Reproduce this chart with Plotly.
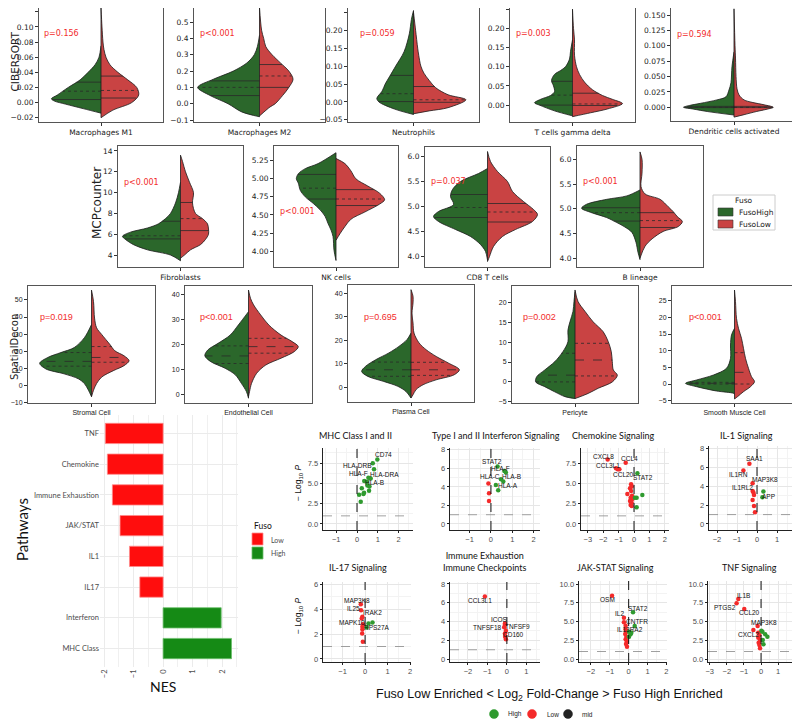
import numpy as np
import plotly.graph_objects as go

W, H = 800, 720
OFF = 8              # the page body adds 8px around the figure div
GREEN = "#2b672b"
RED = "#c94343"
BAR_RED = "#ff0d0d"
BAR_GREEN = "#158a15"
PT_RED = "#f42a2a"
PT_GREEN = "#2f9a2f"
PX_PER_UNIT = 62.5   # violin half widths below are read in pixels

# ---------------- violin profiles (value, half width)
m1_high_y = [-0.014, -0.008, -0.002, 0.002, 0.005, 0.01, 0.02, 0.03, 0.04, 0.05, 0.06, 0.075]
m1_high_w = [0, 18, 36, 47, 50, 44, 33, 21, 13, 6, 2, 0]
m1_low_y = [-0.02, -0.01, 0.0, 0.01, 0.02, 0.03, 0.04, 0.05, 0.06, 0.07, 0.08, 0.1, 0.125]
m1_low_w = [0, 12, 31, 38, 36, 27, 17, 9, 5, 3, 2, 1, 0]
m1_q_high = [0.004, 0.015, 0.027]
m1_q_low = [0.006, 0.016, 0.035]

m2_high_y = [-0.08, -0.05, 0.0, 0.05, 0.1, 0.15, 0.2, 0.25, 0.3, 0.35, 0.42]
m2_high_w = [0, 17, 30, 47, 59, 44, 25, 12, 5, 2, 0]
m2_low_y = [-0.075, -0.02, 0.0, 0.05, 0.1, 0.15, 0.2, 0.25, 0.3, 0.35, 0.4, 0.45, 0.59]
m2_low_w = [0, 10, 15, 22, 28, 32, 28, 20, 12, 6, 4, 2, 0]
m2_q_high = [0.05, 0.10, 0.14]
m2_q_low = [0.10, 0.17, 0.24]

neu_high_y = [-0.035, -0.02, 0.0, 0.01, 0.03, 0.05, 0.07, 0.1, 0.14, 0.19, 0.23, 0.255]
neu_high_w = [0, 18, 33, 35, 30, 27, 23, 17, 9, 4, 2, 0]
neu_low_y = [-0.033, -0.025, -0.016, 0.006, 0.02, 0.04, 0.06, 0.08, 0.1, 0.13, 0.15, 0.2, 0.25]
neu_low_w = [0, 15, 33, 50, 33, 21, 15, 10, 7, 5, 4, 2, 0]
neu_q_high = [0.001, 0.023, 0.074]
neu_q_low = [-0.001, 0.006, 0.043]

tgd_high_y = [-0.028, -0.015, 0.0, 0.006, 0.015, 0.025, 0.035, 0.05, 0.064, 0.08, 0.09, 0.1, 0.12, 0.14, 0.17]
tgd_high_w = [0, 18, 33, 38, 32, 22, 18, 19, 21, 18, 12, 7, 3, 2, 0]
tgd_low_y = [-0.03, -0.02, -0.01, 0.004, 0.015, 0.025, 0.04, 0.06, 0.08, 0.1, 0.13, 0.17, 0.2, 0.25]
tgd_low_w = [0, 18, 35, 50, 40, 30, 20, 12, 7, 4, 2, 2, 1, 0]
tgd_q_high = [0.0, 0.026, 0.062]
tgd_q_low = [-0.001, 0.003, 0.031]

dc_high_y = [-0.0126, -0.007, -0.003, 0.0, 0.003, 0.0065, 0.012, 0.017, 0.028, 0.04, 0.066, 0.09]
dc_high_w = [0, 26, 40, 50, 44, 33, 17, 8, 5, 3, 2, 0]
dc_low_y = [-0.016, -0.012, -0.007, -0.003, 0.0, 0.004, 0.008, 0.012, 0.02, 0.03, 0.05, 0.08, 0.1, 0.16]
dc_low_w = [0, 10, 22, 33, 39, 30, 18, 10, 5, 3, 2, 1.5, 1, 0]
dc_q_high = [-0.0005, 0.0, 0.0015]
dc_q_low = [-0.0005, 0.0, 0.0015]

fib_high_y = [3.45, 4.0, 4.5, 5.0, 5.5, 5.8, 6.2, 6.6, 7.0, 7.5, 8.0, 9.0, 10.0, 11.0]
fib_high_w = [0, 10, 33, 47, 55, 58, 50, 33, 22, 15, 10, 5, 2, 0]
fib_low_y = [3.7, 4.0, 4.5, 5.0, 5.5, 6.0, 6.5, 7.0, 7.5, 8.0, 9.0, 10.0, 11.0, 12.0, 13.0, 13.6]
fib_low_w = [0, 4, 10, 20, 25, 28, 28, 27, 22, 15, 12, 13, 9, 5, 2, 0]
fib_q_high = [5.55, 5.85, 7.25]
fib_q_low = [6.35, 7.5, 9.05]

nk_high_y = [3.87, 4.01, 4.2, 4.29, 4.38, 4.48, 4.57, 4.66, 4.75, 4.84, 4.94, 5.0, 5.07, 5.14, 5.21, 5.36]
nk_high_w = [0, 2, 3, 5, 8, 11, 16, 23, 31, 36, 38, 40, 38, 31, 18, 0]
nk_low_y = [4.15, 4.24, 4.34, 4.44, 4.54, 4.65, 4.71, 4.8, 4.9, 5.0, 5.11, 5.21, 5.28]
nk_low_w = [0, 4, 9, 15, 29, 44, 49, 44, 32, 20, 15, 9, 0]
nk_q_high = [4.72, 4.87, 5.06]
nk_q_low = [4.63, 4.72, 4.85]

cd8_high_y = [3.92, 4.09, 4.23, 4.39, 4.53, 4.69, 4.79, 4.89, 5.03, 5.19, 5.33, 5.49, 5.65, 5.75]
cd8_high_w = [0, 2, 7, 17, 32, 49, 54, 49, 34, 37, 35, 27, 9, 0]
cd8_low_y = [3.89, 3.99, 4.19, 4.39, 4.53, 4.69, 4.83, 4.93, 5.09, 5.29, 5.49, 5.69, 5.89, 6.09]
cd8_low_w = [0, 2, 6, 15, 28, 45, 50, 46, 36, 25, 20, 10, 3, 0]
cd8_q_high = [4.77, 4.97, 5.23]
cd8_q_low = [4.68, 4.88, 5.05]

b_high_y = [3.97, 4.12, 4.32, 4.52, 4.63, 4.72, 4.82, 4.92, 5.01, 5.09, 5.19, 5.26, 5.38]
b_high_w = [0, 2, 4, 8, 15, 23, 33, 48, 58, 53, 33, 13, 0]
b_low_y = [4.0, 4.24, 4.39, 4.54, 4.64, 4.74, 4.84, 4.94, 5.04, 5.19, 5.3, 5.45, 5.72, 6.0, 6.15]
b_low_w = [0, 5, 12, 23, 38, 42, 37, 33, 28, 20, 5, 1, 2, 2, 0]
b_q_high = [4.75, 4.92, 5.02]
b_q_low = [4.62, 4.76, 4.92]

st_high_y = [-6.7, -2.9, 1.0, 3.8, 6.7, 9.6, 12.9, 16.3, 19.2, 22.1, 27.9, 35.6]
st_high_w = [0, 3, 7, 13, 27, 45, 51, 43, 30, 17, 7, 0]
st_low_y = [-6.7, -2.9, 1.0, 4.8, 8.7, 11.5, 14.4, 17.3, 20.2, 24.0, 29.8, 33.7, 39.4, 49.0, 55.8]
st_low_w = [0, 2, 5, 10, 22, 32, 37, 32, 23, 18, 10, 5, 3, 2, 0]
st_q_high = [11.2, 14.0, 19.2]
st_q_low = [13.5, 16.3, 22.7]

en_high_y = [-1.3, 1.3, 4.6, 8.0, 10.6, 13.2, 15.6, 17.9, 20.5, 23.8, 27.8, 33.1]
en_high_w = [0, 2, 7, 13, 23, 37, 43, 40, 30, 18, 10, 0]
en_low_y = [-0.7, 1.3, 4.6, 8.6, 11.9, 14.6, 17.2, 19.2, 21.2, 23.8, 27.8, 31.8, 35.8, 38.4, 41.7]
en_low_w = [0, 1, 3, 8, 17, 32, 45, 49, 43, 32, 20, 12, 5, 2, 0]
en_q_high = [12.5, 15.5, 19.5]
en_q_low = [16.6, 19.2, 22.5]

pl_high_y = [-4.7, -1.9, 0.3, 2.4, 4.6, 6.7, 8.9, 11.7, 14.6, 17.4, 20.3, 23.1]
pl_high_w = [0, 5, 13, 27, 43, 49, 45, 35, 22, 12, 4, 0]
pl_low_y = [-4.7, -3.3, -1.1, 1.0, 3.1, 5.3, 7.4, 10.3, 13.1, 16.0, 18.9, 23.1, 27.4, 31.7, 36.0, 38.9, 41.7]
pl_low_w = [0, 2, 5, 12, 25, 43, 48, 37, 25, 15, 8, 3, 2, 1, 2, 2, 0]
pl_q_high = [4.6, 7.4, 10.7]
pl_q_low = [5.0, 7.4, 10.6]

pe_high_y = [-4.2, -3.7, -2.5, -1.2, 0.0, 1.3, 3.0, 5.1, 7.6, 10.1, 13.0, 15.1, 17.7, 20.2, 22.7]
pe_high_w = [0, 10, 20, 30, 39, 38, 30, 20, 12, 7, 7, 5, 2, 1, 0]
pe_low_y = [-4.2, -2.9, -1.6, 0.0, 1.7, 3.0, 5.1, 7.6, 10.1, 12.6, 15.1, 17.7, 20.2, 23.1]
pe_low_w = [0, 13, 23, 37, 42, 38, 37, 36, 33, 28, 18, 10, 3, 0]
pe_q_high = [0.0, 1.7, 7.2]
pe_q_low = [1.5, 5.5, 9.7]

sm_high_y = [-3.1, -2.8, -2.1, -0.8, 0.2, 1.2, 2.7, 4.7, 7.7, 11.7, 14.7, 16.7]
sm_high_w = [0, 1, 18, 38, 49, 38, 21, 8, 4, 4, 3, 0]
sm_low_y = [-4.5, -3.8, -2.3, -0.8, 0.7, 2.2, 4.7, 7.7, 10.7, 13.7, 16.7, 19.7, 24.7, 28.2]
sm_low_w = [0, 3, 9, 16, 20, 17, 14, 11, 9, 7, 4, 2, 1, 0]
sm_q_high = [0.0, 0.2, 0.5]
sm_q_low = [0.0, 3.5, 9.4]

# ---------------- GSEA bars
bar_low_names = ["TNF", "Chemokine", "Immune Exhaustion", "JAK/STAT", "IL1", "IL17"]
bar_low_nes = [-1.96, -1.89, -1.72, -1.46, -1.14, -0.79]
bar_high_names = ["Interferon", "MHC Class"]
bar_high_nes = [1.97, 2.32]

# ---------------- volcano points (log2 fold change, -log10 p)
mhc_fc = [0.98, 0.76, 0.82, 0.55, 0.66, 0.35, 0.47, 0.50, 0.60, 0.58, 0.23, 0.34, 0.31, 0.10, 0.18]
mhc_p = [7.95, 7.46, 6.72, 5.70, 5.60, 5.30, 5.20, 4.75, 4.60, 4.10, 4.40, 3.85, 3.70, 3.60, 2.75]
mhc_genes = [("CD74", 0), ("HLA-DRB", 1), ("HLA-F", 5), ("HLA-DRA", 2), ("HLA-B", 6)]

ifn_fc = [0.31, 0.63, 0.70, 0.47, 0.58, 0.23, 0.34, -0.12, -0.09, -0.09]
ifn_p = [6.20, 5.73, 5.55, 4.83, 4.58, 4.22, 3.64, 4.36, 3.32, 2.49]
ifn_genes = [("STAT2", 0), ("HLA-F", 1), ("HLA-C", 3), ("HLA-B", 2), ("HLA-A", 4)]

chem_fc = [-1.71, -0.54, -1.17, -1.06, -0.95, -0.19, -0.15, -0.26, -0.19, -0.43, -0.13,
           -0.22, -0.11, -0.26, -0.15, -0.22, -0.15, 0.22, 0.06, 0.17, 0.54, 0.17]
chem_p = [7.95, 7.54, 6.85, 6.72, 6.72, 4.88, 4.60, 4.39, 4.06, 3.69, 3.48,
          3.24, 3.08, 2.83, 2.62, 2.34, 2.21, 6.23, 3.24, 3.24, 3.57, 2.05]
chem_genes = [("CXCL8", 0), ("CCL4", 1), ("CCL3L1", 2), ("CCL20", 4), ("STAT2", 17)]

il1_fc = [-0.38, -0.68, -0.22, -0.22, -0.18, -0.15, -0.22, -0.15, -0.10, 0.32, 0.27]
il1_p = [6.40, 5.69, 4.34, 3.52, 3.34, 3.09, 2.56, 1.92, 1.24, 3.45, 2.85]
il1_genes = [("SAA1", 0), ("IL1RN", 1), ("MAP3K8", 2), ("IL1RL2", 3), ("APP", 10)]

il17_fc = [-0.19, -0.18, -0.12, -0.15, -0.10, -0.12, -0.12, -0.13, -0.10, 0.15, 0.33, 0.07]
il17_p = [4.40, 3.92, 3.39, 3.25, 2.80, 2.59, 2.37, 2.05, 1.39, 2.85, 2.93, 2.53]
il17_genes = [("MAP3K8", 0), ("IL25", 1), ("IRAK2", 2), ("MAPK10", 4), ("RPS27A", 11)]

exh_fc = [-1.13, -0.10, -0.10, -0.14, -0.05, -0.09, -0.10, -0.05]
exh_p = [6.65, 3.80, 3.65, 3.38, 3.02, 2.38, 2.74, 2.13]
exh_genes = [("CCL3L1", 0), ("ICOS", 1), ("TNFSF18", 3), ("TNFSF9", 2), ("CD160", 5)]

jak_fc = [-0.88, -0.25, -0.25, -0.16, -0.16, -0.12, -0.18, -0.12, -0.16, -0.10, -0.14, -0.09,
          0.23, 0.32, 0.02, 0.10, 0.02, 0.14]
jak_p = [8.44, 5.51, 4.89, 4.45, 3.96, 3.64, 3.33, 2.98, 2.62, 2.31, 2.00, 1.64,
         6.22, 4.40, 3.64, 3.29, 2.98, 3.51]
jak_genes = [("OSM", 0), ("IL2", 1), ("STAT2", 12), ("CNTFR", 13), ("IL13RA2", 4)]

tnf_fc = [-1.33, -1.43, -0.98, -0.20, -0.45, -0.16, -0.10, -0.16, -0.06, -0.14, -0.10, -0.06,
          0.08, 0.24, 0.37, 0.10, 0.14, 0.02]
tnf_p = [8.00, 7.42, 6.67, 4.40, 3.87, 3.51, 3.20, 2.84, 2.53, 2.18, 1.87, 1.42,
         3.64, 3.29, 2.98, 2.53, 1.96, 3.78]
tnf_genes = [("IL1B", 0), ("PTGS2", 1), ("CCL20", 2), ("MAP3K8", 3), ("CXCL2", 4)]

fig = go.Figure()
annotations = []
shapes = []
axes = {}


def px(x, y):
    # page pixel -> paper fraction
    return (x - OFF) / W, 1 - (y - OFF) / H


def dom(box):
    l, t, r, b = box
    x0, y1 = px(max(l, OFF), max(t, OFF))
    x1, y0 = px(r, b)
    return [x0, x1], [y0, min(y1, 1.0)]


def clip_range(box, yr):
    # keep data where it was when the top of the box has to move below the page margin
    l, t, r, b = box
    if t >= OFF:
        return yr
    frac = (OFF - t) / (b - t)
    return [yr[0], yr[1] - frac * (yr[1] - yr[0])]


def ids(i):
    s = "" if i == 1 else str(i)
    return "x" + s, "y" + s


def note(text, x, y, size, color="#111", family="Liberation Sans", angle=0, anchor="center"):
    fx, fy = px(x, y)
    annotations.append(dict(text=text, x=fx, y=fy, xref="paper", yref="paper", showarrow=False,
                            xanchor=anchor, yanchor="middle", textangle=angle,
                            font=dict(family=family, size=size, color=color)))


def box_shape(kind, l, t, r, b, fill, line="#333", width=0.8):
    x0, y1 = px(l, t)
    x1, y0 = px(r, b)
    shapes.append(dict(type=kind, xref="paper", yref="paper", x0=x0, x1=x1, y0=y0, y1=y1,
                       fillcolor=fill, line=dict(color=line, width=width)))


def add_half(i, ys, ws, q, side, color, dashes):
    xa, ya = ids(i)
    xs = [side * w / PX_PER_UNIT for w in ws]
    fig.add_trace(go.Scatter(x=xs, y=ys, mode="lines", fill="toself", fillcolor=color,
                             line=dict(color="#1a1a1a", width=0.8, shape="spline", smoothing=0.9),
                             showlegend=False, hoverinfo="skip", xaxis=xa, yaxis=ya))
    qw = np.interp(q, ys, ws) / PX_PER_UNIT * side
    for k in range(3):
        fig.add_trace(go.Scatter(x=[0, qw[k]], y=[q[k], q[k]], mode="lines",
                                 line=dict(color="#2a2a2a", width=0.8, dash=dashes[k]),
                                 showlegend=False, hoverinfo="skip", xaxis=xa, yaxis=ya))


# name, box(px), y range, dtick, format, p text, p pos(px), row, profiles
violins = [
    ("Macrophages M1", (39, 3, 163, 122), [-0.0257, 0.1316], 0.02, ".2f", "p=0.156", (42, 34), 0,
     (m1_high_y, m1_high_w, m1_q_high), (m1_low_y, m1_low_w, m1_q_low)),
    ("Macrophages M2", (194, 3, 325, 122), [-0.112, 0.617], 0.1, ".1f", "p<0.001", (198, 34), 0,
     (m2_high_y, m2_high_w, m2_q_high), (m2_low_y, m2_low_w, m2_q_low)),
    ("Neutrophils", (348, 3, 479, 122), [-0.056, 0.276], 0.05, ".2f", "p=0.059", (358, 34), 0,
     (neu_high_y, neu_high_w, neu_q_high), (neu_low_y, neu_low_w, neu_q_low)),
    ("T cells gamma delta", (510, 3, 635, 122), [-0.044, 0.266], 0.05, ".2f", "p=0.003", (514, 34), 0,
     (tgd_high_y, tgd_high_w, tgd_q_high), (tgd_low_y, tgd_low_w, tgd_q_low)),
    ("Dendritic cells activated", (671, 3, 797, 121), [-0.0223, 0.1695], 0.025, ".3f", "p=0.594", (675, 35), 0,
     (dc_high_y, dc_high_w, dc_q_high), (dc_low_y, dc_low_w, dc_q_low)),
    ("Fibroblasts", (118, 146, 243, 267), [2.85, 14.48], 2, "d", "p<0.001", (122, 182), 1,
     (fib_high_y, fib_high_w, fib_q_high), (fib_low_y, fib_low_w, fib_q_low)),
    ("NK cells", (274, 146, 398, 267), [3.78, 5.453], 0.25, ".2f", "p<0.001", (278, 211), 1,
     (nk_high_y, nk_high_w, nk_q_high), (nk_low_y, nk_low_w, nk_q_low)),
    ("CD8 T cells", (425, 147, 550, 267), [3.78, 6.18], 0.5, ".1f", "p=0.037", (429, 181), 1,
     (cd8_high_y, cd8_high_w, cd8_q_high), (cd8_low_y, cd8_low_w, cd8_q_low)),
    ("B lineage", (577, 146, 703, 267), [3.82, 6.27], 0.5, ".1f", "p<0.001", (581, 181), 1,
     (b_high_y, b_high_w, b_q_high), (b_low_y, b_low_w, b_q_low)),
    ("Stromal Cell", (28, 286, 155, 403), [-10.4, 58.2], 10, "d", "p=0.019", (38, 317), 2,
     (st_high_y, st_high_w, st_q_high), (st_low_y, st_low_w, st_q_low)),
    ("Endothelial Cell", (185, 286, 312, 403), [-3.2, 43.3], 10, "d", "p<0.001", (198, 317), 2,
     (en_high_y, en_high_w, en_q_high), (en_low_y, en_low_w, en_q_low)),
    ("Plasma Cell", (348, 285, 474, 402), [-6.4, 43.7], 10, "d", "p=0.695", (362, 317), 2,
     (pl_high_y, pl_high_w, pl_q_high), (pl_low_y, pl_low_w, pl_q_low)),
    ("Pericyte", (512, 286, 638, 403), [-5.3, 24.1], 5, "d", "p=0.002", (521, 317), 2,
     (pe_high_y, pe_high_w, pe_q_high), (pe_low_y, pe_low_w, pe_q_low)),
    ("Smooth Muscle Cell", (672, 286, 797, 403), [-5.7, 29.4], 5, "d", "p<0.001", (687, 317), 2,
     (sm_high_y, sm_high_w, sm_q_high), (sm_low_y, sm_low_w, sm_q_low)),
]

VFONT = "DejaVu Sans"
AF = "Liberation Sans"
for n, (name, box, yr, dt, fmt, ptxt, ppos, row, hi, lo) in enumerate(violins):
    i = n + 1
    xa, ya = ids(i)
    dx, dy = dom(box)
    dashes = ["solid", "dot", "solid"] if row < 2 else ["dot", "dash", "dot"]
    add_half(i, hi[0], hi[1], hi[2], -1, GREEN, dashes)
    add_half(i, lo[0], lo[1], lo[2], 1, RED, dashes)
    fig.add_trace(go.Scatter(x=[0, 0], y=[min(hi[0][0], lo[0][0]), max(hi[0][-1], lo[0][-1])],
                             mode="lines", line=dict(color="#1a1a1a", width=0.8),
                             showlegend=False, hoverinfo="skip", xaxis=xa, yaxis=ya))
    tf = dict(family=VFONT, size=7.5, color="#222") if row < 2 else dict(family=AF, size=7, color="#222")
    axes["xaxis" + ("" if i == 1 else str(i))] = dict(
        domain=dx, range=[-1, 1], anchor=ya, tickvals=[0], ticktext=[name], ticks="outside",
        ticklen=3, tickcolor="#333", showline=True, mirror=True, linecolor="#555", linewidth=1,
        showgrid=False, zeroline=False, tickfont=tf)
    axes["yaxis" + ("" if i == 1 else str(i))] = dict(
        domain=dy, range=clip_range(box, yr), anchor=xa, dtick=dt, tickformat=fmt, ticks="outside",
        ticklen=3, tickcolor="#333", showline=True, mirror=True, linecolor="#555", linewidth=1,
        showgrid=False, zeroline=False, tickfont=tf)
    note(ptxt, ppos[0], ppos[1], 8 if row < 2 else 9, "#f22b2b", VFONT if row < 2 else AF, anchor="left")

note("CIBERSORT", 14.5, 62, 10.5, "#222", VFONT, -90)
note("MCPcounter", 97, 203, 12, "#222", VFONT, -90)
note("SpatialDecon", 14, 347, 10, "#222", VFONT, -90)

# violin legend, drawn as a framed key
box_shape("rect", 713, 195, 775, 230, "white", "#cccccc", 1)
note("Fuso", 744, 201, 7.5, "#222", VFONT)
box_shape("rect", 718, 208, 733, 216, GREEN, "#333", 0.6)
box_shape("rect", 718, 220, 733, 228, RED, "#333", 0.6)
note("FusoHigh", 737, 212, 7.5, "#222", VFONT, anchor="left")
note("FusoLow", 737, 224, 7.5, "#222", VFONT, anchor="left")

# ---------------- bar chart (GSEA NES)
ib = len(violins) + 1
xb, yb = ids(ib)
bar_order = bar_low_names + bar_high_names
fig.add_trace(go.Bar(x=bar_low_nes, y=bar_low_names, orientation="h", width=0.66, name="Low",
                     marker=dict(color=BAR_RED, line=dict(color="#ff8a8a", width=0.8)),
                     showlegend=False, xaxis=xb, yaxis=yb, hoverinfo="skip"))
fig.add_trace(go.Bar(x=bar_high_nes, y=bar_high_names, orientation="h", width=0.66, name="High",
                     marker=dict(color=BAR_GREEN, line=dict(color="#6cbf6c", width=0.8)),
                     showlegend=False, xaxis=xb, yaxis=yb, hoverinfo="skip"))
dx, dy = dom((100, 415, 238, 667))
axes["xaxis%d" % ib] = dict(domain=dx, range=[-2.14, 2.54], anchor=yb, tickvals=[-2, -1, 0, 1, 2],
                            tickangle=-90, showgrid=True, gridcolor="#ebebeb", gridwidth=1,
                            minor=dict(dtick=0.5, tick0=0, showgrid=True, gridcolor="#f0f0f0"),
                            zeroline=False, showline=False,
                            tickfont=dict(family="Lato", size=7.5, color="#4d4d4d"))
axes["yaxis%d" % ib] = dict(domain=dy, type="category", categoryorder="array", categoryarray=bar_order,
                            range=[7.6, -0.6], anchor=xb, showgrid=True, gridcolor="#ebebeb",
                            zeroline=False, showline=False, ticks="",
                            tickfont=dict(family="Lato", size=7.5, color="#4d4d4d"))
note("NES", 163, 686, 14, "#111", "Lato")
note("Pathways", 22, 530, 15, "#111", "Lato", -90)
note("Fuso", 252, 526, 8.5, "#111", "Lato", anchor="left")
box_shape("rect", 252, 533, 263, 545, BAR_RED, "#ff8a8a", 0.8)
box_shape("rect", 252, 547, 263, 559, BAR_GREEN, "#6cbf6c", 0.8)
note("Low", 269, 540, 7, "#4d4d4d", "Lato", anchor="left")
note("High", 269, 553, 7, "#4d4d4d", "Lato", anchor="left")

# ---------------- volcano panels
volcanos = [
    ("MHC Class I and II", (323, 448, 413, 530), [-1.64, 2.7], [-0.74, 9.35], 2.5, ".1f",
     mhc_fc, mhc_p, mhc_genes, [(6, 5), (-15, -2), (-6, 7), (10, -5), (8, -1)], (355, 435), True),
    ("Type I and II Interferon Signaling", (450, 448, 540, 530), [-1.92, 2.3], [-0.65, 8.2], 2, "d",
     ifn_fc, ifn_p, ifn_genes, [(-6, 5), (-4, 2), (-11, 3), (6, -4), (5, -4)], (496, 435), False),
    ("Chemokine Signaling", (581, 448, 669, 530), [-3.44, 2.27], [-0.74, 9.35], 2.5, ".1f",
     chem_fc, chem_p, chem_genes, [(-4, 3), (4, 4), (-8, 3), (4, -5), (6, -4)], (613, 435), False),
    ("IL-1 Signaling", (709, 446, 798, 530), [-2.4, 2.05], [-0.64, 8.3], 2, "d",
     il1_fc, il1_p, il1_genes, [(5, 5), (-5, -4), (12, 4), (-10, 3), (6, 1)], (746, 435), False),
    ("IL-17 Signaling", (323, 582, 411, 662), [-1.87, 2.04], [-0.25, 6.2], 2, "d",
     il17_fc, il17_p, il17_genes, [(-4, 4), (-8, 2), (10, 4), (-11, 2), (10, 0)], (358, 567), True),
    ("Immune Exhaustion<br>Immune Checkpoints", (450, 582, 540, 662), [-2.92, 1.7], [-0.3, 8.2], 2, "d",
     exh_fc, exh_p, exh_genes, [(-5, -4), (-5, 4), (-17, 0), (13, -2), (8, 2)], (485, 561), False),
    ("JAK-STAT Signaling", (579, 581, 667, 662), [-2.63, 2.03], [-0.4, 10.4], 2.5, ".1f",
     jak_fc, jak_p, jak_genes, [(-5, -4), (-4, 4), (5, 4), (2, 5), (4, 0)], (615, 567), False),
    ("TNF Signaling", (708, 581, 797, 662), [-3.1, 2.1], [-0.4, 10.4], 2.5, ".1f",
     tnf_fc, tnf_p, tnf_genes, [(5, 4), (-12, -4), (5, -4), (6, 4), (-5, -5)], (749, 567), False),
]

for n, (title, box, xr, yr, ydt, yfmt, fc, lp, genes, offs, tpos, ylab) in enumerate(volcanos):
    i = ib + 1 + n
    xa, ya = ids(i)
    dx, dy = dom(box)
    fc = np.array(fc)
    lp = np.array(lp)
    low = fc < 0
    fig.add_trace(go.Scatter(x=fc[low], y=lp[low], mode="markers", showlegend=False,
                             marker=dict(color=PT_RED, size=4.5), xaxis=xa, yaxis=ya, hoverinfo="skip"))
    fig.add_trace(go.Scatter(x=fc[~low], y=lp[~low], mode="markers", showlegend=False,
                             marker=dict(color=PT_GREEN, size=4.5), xaxis=xa, yaxis=ya, hoverinfo="skip"))
    common = dict(showgrid=True, gridcolor="#e6e6e6", gridwidth=0.8, zeroline=False, showline=True,
                  linecolor="#222", linewidth=0.8, ticks="outside", ticklen=2.5, tickcolor="#222",
                  tickfont=dict(family=AF, size=7.5, color="#4d4d4d"))
    axes["xaxis%d" % i] = dict(domain=dx, range=xr, anchor=ya, dtick=1, tick0=0,
                               minor=dict(dtick=0.5, tick0=0, showgrid=True, gridcolor="#f3f3f3"),
                               **common)
    axes["yaxis%d" % i] = dict(domain=dy, range=yr, anchor=xa, dtick=ydt, tick0=0, tickformat=yfmt,
                               minor=dict(dtick=ydt / 2, tick0=0, showgrid=True, gridcolor="#f3f3f3"),
                               **common)
    shapes.append(dict(type="line", xref=xa, yref=ya + " domain", x0=0, x1=0, y0=0, y1=1,
                       line=dict(color="#111", width=1, dash="dash")))
    shapes.append(dict(type="line", xref=xa + " domain", yref=ya, x0=0, x1=1, y0=1, y1=1,
                       line=dict(color="#888", width=0.8, dash="dash")))
    for (gene, k), (ox, oy) in zip(genes, offs):
        annotations.append(dict(text=gene, x=fc[k], y=lp[k], xref=xa, yref=ya, xshift=ox, yshift=oy,
                                xanchor="center", yanchor="middle", showarrow=False,
                                font=dict(family=AF, size=6.5, color="#111")))
    note(title, tpos[0], tpos[1], 9, "#111", "Lato")
    if ylab:
        note("\u2212 Log<sub>10</sub> <i>P</i>", box[0] - 25, (box[1] + box[3]) / 2 - 6, 8.5,
             "#111", AF, -90)

note("Fuso Low Enriched &lt; Log<sub>2</sub> Fold-Change &gt; Fuso High Enriched", 549, 695, 12.5, "#111", AF)

# colour key for the volcano panels
for cx, col, lab, tx in [(494, PT_GREEN, "High", 506), (532, PT_RED, "Low", 545), (568, "#222", "mid", 580)]:
    box_shape("circle", cx - 4.5, 709.5, cx + 4.5, 718.5, col, col, 0.5)
    note(lab, tx, 714, 6.5, "#222", AF, anchor="left")

fig.update_layout(
    width=W, height=H, margin=dict(l=0, r=0, t=0, b=0, autoexpand=False),
    paper_bgcolor="white", plot_bgcolor="white", template="none",
    annotations=annotations, shapes=shapes, barmode="overlay", showlegend=False,
    **axes,
)

fig.write_html("out.html")
